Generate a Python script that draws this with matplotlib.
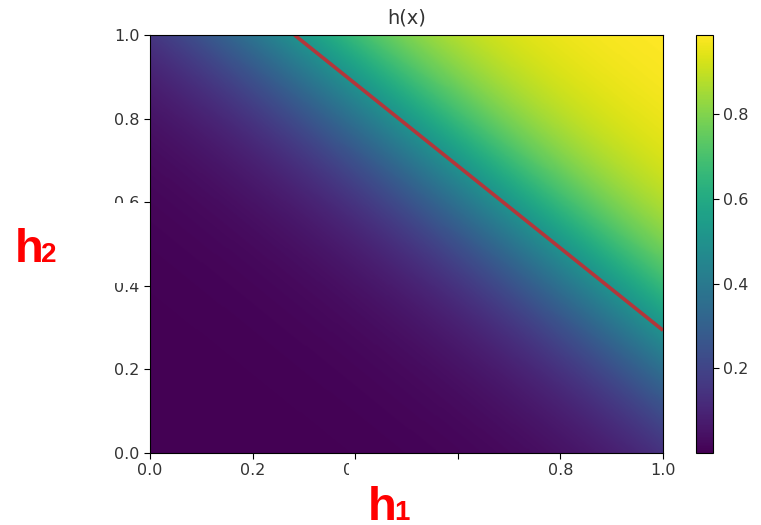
import numpy as np
import matplotlib
matplotlib.use("Agg")
import matplotlib.pyplot as plt
from matplotlib.patches import Rectangle

# Logistic unit h(x) = sigmoid(w1*h1 + w2*h2 + b)
w1 = 6.0
w2 = 6.1
bias = -7.79
n_grid = 300

x_ticks = [0.0, 0.2, 0.4, 0.6, 0.8, 1.0]
y_ticks = [0.0, 0.2, 0.4, 0.6, 0.8, 1.0]
cbar_ticks = [0.2, 0.4, 0.6, 0.8]

h1 = np.linspace(0, 1, n_grid)
h2 = np.linspace(0, 1, n_grid)
H1, H2 = np.meshgrid(h1, h2)
Z = 1.0 / (1.0 + np.exp(-(w1 * H1 + w2 * H2 + bias)))

W, H = 761, 525
fig = plt.figure(figsize=(W / 100, H / 100), dpi=100)
ax = fig.add_axes([150 / W, (H - 453) / H, 513 / W, 418 / H])
cax = fig.add_axes([696 / W, (H - 453) / H, 17 / W, 418 / H])

im = ax.imshow(Z, origin="lower", extent=[0, 1, 0, 1], aspect="auto",
               cmap="viridis", interpolation="bilinear")
ax.contour(H1, H2, Z, levels=[0.5], colors=["#b3363a"], linewidths=2.6)

tick_color = "#333333"
ax.set_xticks(x_ticks)
ax.set_yticks(y_ticks)
ax.set_xticklabels([f"{v:.1f}" for v in x_ticks])
ax.set_yticklabels([f"{v:.1f}" for v in y_ticks])
ax.tick_params(labelsize=11.5, labelcolor=tick_color, length=4)
ax.set_title("h(x)", fontsize=14, color=tick_color, pad=8)

cb = fig.colorbar(im, cax=cax, ticks=cbar_ticks)
cb.ax.tick_params(labelsize=11.5, labelcolor=tick_color, length=4)
cb.ax.set_yticklabels([f"{v:.1f}" for v in cbar_ticks])

# White panels over part of the tick labels, with the axis names on top
fig.patches.append(Rectangle((100 / W, (H - 283) / H), 41 / W, 80 / H,
                             transform=fig.transFigure, facecolor="white",
                             edgecolor="none", zorder=5))
fig.patches.append(Rectangle((349 / W, (H - 486) / H), 179 / W, 26 / H,
                             transform=fig.transFigure, facecolor="white",
                             edgecolor="none", zorder=5))

lab_kw = dict(color="red", fontweight="bold", family="Liberation Sans",
              va="baseline", ha="left", zorder=10)
fig.text(15 / W, (H - 262) / H, "h", fontsize=34, **lab_kw)
fig.text(41 / W, (H - 262) / H, "2", fontsize=20, **lab_kw)
fig.text(368 / W, (H - 520) / H, "h", fontsize=34, **lab_kw)
fig.text(394 / W, (H - 520) / H, "1", fontsize=20, **lab_kw)

fig.savefig("out.png", dpi=100)
